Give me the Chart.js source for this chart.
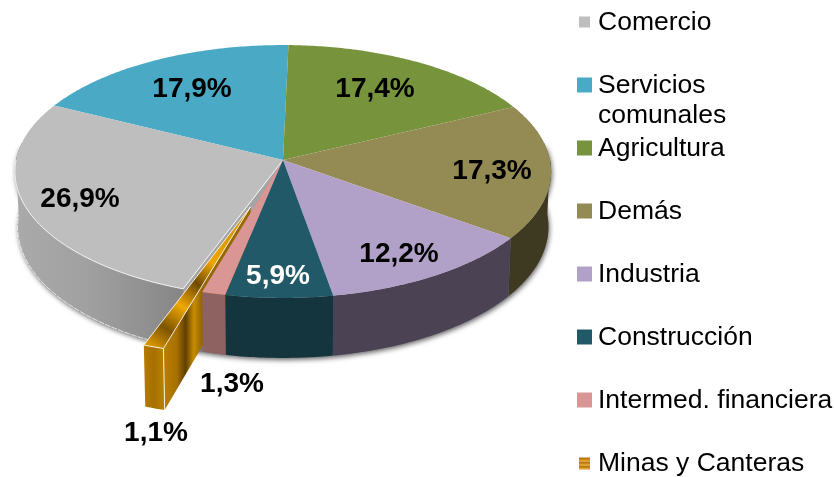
<!DOCTYPE html>
<html><head><meta charset="utf-8">
<style>html,body{margin:0;padding:0;background:#fff}#w{position:relative;width:834px;height:477px}</style>
<script src="https://cdn.jsdelivr.net/npm/chart.js@4"></script>
</head><body><div id="w"><canvas id="c" width="834" height="477"></canvas></div>
<script>
const categories = ['Comercio',['Servicios','comunales'],'Agricultura','Demás','Industria','Construcción','Intermed. financiera','Minas y Canteras'];
const shares = [26.9,17.9,17.4,17.3,12.2,5.9,1.3,1.1];
const topColors = ['#bebebe','#4aa9c4','#77933c','#948a54','#b1a0c7','#215968','#d99694','#d89400'];
const sideColors = ['#9a9a9a','#2d6a7c','#4b5e26','#3e3a22','#4b4254','#14353e','#8f6262','#b57c00'];
const labelColors = ['#000','#000','#000','#000','#000','#fff','#000','#000'];
const labelCenters = [[80,198],[192,88],[375,88],[492,170],[399,253],[278,275],[232,383],[156,432]];
const legendRows = [23,86,149,212,275,338,401,464];
const VIEW = {rx:267, ry:125.4, k:0.0909, depth:55, depthNear:5, shrink:0.99};
const EXPLODED = 7, EXPLODE = 0.38;
const D = Math.PI/180, TAU = Math.PI*2;

function place(el,u,v,down){
  const w = 1 - VIEW.k*v;
  let x = VIEW.rx*u/w, y = VIEW.ry*v/w;
  if(down){ x *= VIEW.shrink; y += VIEW.depth + VIEW.depthNear*v; }
  return [el.x + x, el.y + y];
}
function rimPt(el,t,e,mid,down){
  return place(el, Math.sin(t)+e*Math.sin(mid), -Math.cos(t)-e*Math.cos(mid), down);
}
function apex(el,e,mid,down){ return place(el, e*Math.sin(mid), -e*Math.cos(mid), down); }
function trace(ctx, pts){ ctx.beginPath(); pts.forEach((p,i)=> i? ctx.lineTo(p[0],p[1]) : ctx.moveTo(p[0],p[1])); ctx.closePath(); }
function arcPts(el,a,b,e,mid,down){
  const n = Math.max(2,Math.ceil(Math.abs(b-a)/(0.7*D))), pts=[];
  for(let i=0;i<=n;i++) pts.push(rimPt(el,a+(b-a)*i/n,e,mid,down));
  return pts;
}
function strokeLine(ctx,pts){
  ctx.beginPath();
  pts.forEach((p,j)=> j?ctx.lineTo(p[0],p[1]):ctx.moveTo(p[0],p[1]));
  ctx.stroke();
}

const pie3d = {
  id:'pie3d',
  beforeDatasetDraw(chart,args){
    const ctx=chart.ctx, arcs=chart.getDatasetMeta(args.index).data;
    const el0=arcs[0];
    ctx.save();
    ctx.shadowColor='rgba(0,0,0,.6)'; ctx.shadowBlur=5; ctx.shadowOffsetX=1; ctx.shadowOffsetY=2;
    ctx.fillStyle='#777';
    const a0=82*D,b0=278*D;
    trace(ctx,[...arcPts(el0,a0,b0,0,0,false),...arcPts(el0,a0,b0,0,0,true).reverse()]); ctx.fill();
    ctx.restore();

    const order=arcs.map((el,i)=>i).sort((p,q)=>{
      const m=a=>-Math.cos((a.startAngle+a.endAngle)/2+Math.PI/2);
      return m(arcs[p])-m(arcs[q]);
    });
    order.forEach(i=>{
      const el=arcs[i];
      let a=el.startAngle+Math.PI/2, b=el.endAngle+Math.PI/2;
      if(a>=TAU){a-=TAU;b-=TAU;}
      const e=i===EXPLODED?EXPLODE:0, mid=(a+b)/2;
      const A=apex(el,e,mid,false), Ad=apex(el,e,mid,true);
      if(i===0){
        const r1=rimPt(el,a,0,mid,false), r2=rimPt(el,a,0,mid,true);
        trace(ctx,[A,r1,r2,Ad]); ctx.fillStyle='#a4a4a4'; ctx.fill();
      }
      if(e){
        const r1=rimPt(el,a,e,mid,false), r2=rimPt(el,a,e,mid,true);
        const g=ctx.createLinearGradient(r1[0],0,r1[0]+38,0);
        g.addColorStop(0,'#b98000');g.addColorStop(.35,'#a87000');g.addColorStop(.58,'#5f4000');g.addColorStop(.8,'#c88c00');g.addColorStop(1,'#966800');
        trace(ctx,[A,r1,r2,Ad]); ctx.fillStyle=g; ctx.fill();
      }
      const lo=Math.max(a,90*D),hi=Math.min(b,270*D);
      if(hi>lo){
        const up=arcPts(el,lo,hi,e,mid,false), dn=arcPts(el,lo,hi,e,mid,true);
        let fill=sideColors[i];
        if(i===0){
          const g=ctx.createLinearGradient(15,0,182,0);
          g.addColorStop(0,'#aaaaaa');g.addColorStop(.45,'#a0a0a0');g.addColorStop(1,'#868686');
          fill=g;
        } else if(e){
          const g=ctx.createLinearGradient(up[up.length-1][0],0,up[0][0],0);
          g.addColorStop(0,'#b67c00');g.addColorStop(.5,'#a66f00');g.addColorStop(1,'#b98000');
          fill=g;
        }
        trace(ctx,[...up,...dn.slice().reverse()]); ctx.fillStyle=fill; ctx.fill();
        if(i===0){
          ctx.save();
          ctx.strokeStyle='rgba(255,255,255,.8)'; ctx.lineWidth=1; ctx.setLineDash([6,1]);
          strokeLine(ctx,dn);
          ctx.restore();
        }
        if(e){
          ctx.strokeStyle='rgba(255,255,255,.85)'; ctx.lineWidth=1;
          strokeLine(ctx,[up[0],dn[0]]);
        }
      }
      const rim=arcPts(el,a,b,e,mid,false);
      trace(ctx,[A,...rim]);
      if(e){
        const last=rim[rim.length>>1], g=ctx.createLinearGradient(A[0],A[1],last[0],last[1]);
        g.addColorStop(0,'#c98c00');g.addColorStop(.4,'#eea600');g.addColorStop(.55,'#704a00');g.addColorStop(.71,'#f0a800');g.addColorStop(.87,'#7d5500');g.addColorStop(1,'#d89400');
        ctx.fillStyle=g;
      } else ctx.fillStyle=el.options.backgroundColor;
      ctx.fill();
      if(i===0||e){
        ctx.strokeStyle='rgba(255,255,255,.85)'; ctx.lineWidth=1;
        if(i===0){
          const edge=arcPts(el,a,a+70*D,0,mid,false);
          strokeLine(ctx,edge);
          strokeLine(ctx,[edge[0],A]);
        } else strokeLine(ctx,[A,...rim,A]);
      }
    });
    return false;
  },
  afterDraw(chart){
    const ctx=chart.ctx;
    ctx.save();
    ctx.textBaseline='middle';
    ctx.textAlign='center';
    ctx.font='bold 28px "Liberation Sans"';
    shares.forEach((v,i)=>{
      ctx.fillStyle=labelColors[i];
      ctx.fillText(v.toFixed(1).replace('.',',')+'%',labelCenters[i][0],labelCenters[i][1]+1);
    });
    ctx.textAlign='left';
    ctx.font='26.5px "Liberation Sans"';
    categories.forEach((c,i)=>{
      const y=legendRows[i], small=(i===0||i===7), s=small?11:15, x=small?579:577, my=y-1-s/2;
      if(i===7){
        for(let k=0;k<3;k++){
          ctx.fillStyle='#b87a00'; ctx.fillRect(x,my+k*4,s,2.4);
          ctx.fillStyle='#e2a020'; ctx.fillRect(x,my+k*4+2.4,s,1.6);
        }
      } else {
        ctx.fillStyle=topColors[i]; ctx.fillRect(x,my,s,s);
      }
      ctx.fillStyle='#000';
      (Array.isArray(c)?c:[c]).forEach((t,j)=>ctx.fillText(t,598,y+j*30));
    });
    ctx.restore();
  }
};

new Chart(document.getElementById('c'),{
  type:'pie',
  data:{labels:categories,datasets:[{data:shares,backgroundColor:topColors,borderWidth:0}]},
  options:{
    responsive:false,animation:false,rotation:200,
    layout:{padding:{left:0,right:268,top:0,bottom:157}},
    plugins:{legend:{display:false},tooltip:{enabled:false}}
  },
  plugins:[pie3d]
});
</script></body></html>
